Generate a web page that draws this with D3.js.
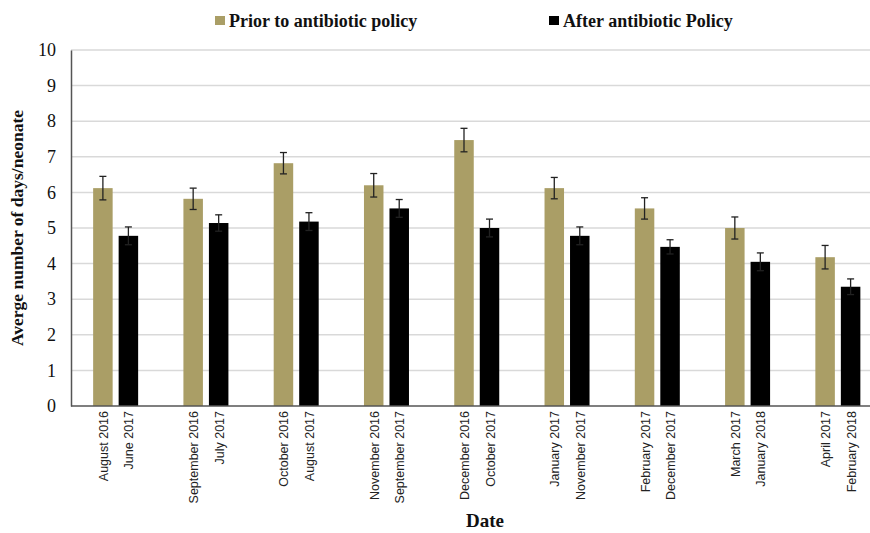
<!DOCTYPE html>
<html><head><meta charset="utf-8">
<script src="https://cdn.jsdelivr.net/npm/d3@7"></script>
<style>body{margin:0;background:#fff}svg{display:block}</style>
</head><body>
<script>
const groups = ["g1","g2","g3","g4","g5","g6","g7","g8","g9"];
const priorLabels = ["August 2016","September 2016","October 2016","November 2016","December 2016","January 2017","February 2017","March 2017","April 2017"];
const afterLabels = ["June 2017","July 2017","August 2017","September 2017","October 2017","November 2017","December 2017","January 2018","February 2018"];
const priorValues = [6.12, 5.82, 6.82, 6.2, 7.47, 6.12, 5.55, 5.0, 4.18];
const priorErrors = [0.33, 0.3, 0.3, 0.33, 0.33, 0.3, 0.3, 0.31, 0.33];
const afterValues = [4.78, 5.14, 5.18, 5.55, 5.0, 4.78, 4.47, 4.05, 3.35];
const afterErrors = [0.25, 0.23, 0.25, 0.25, 0.25, 0.25, 0.2, 0.25, 0.22];
const yTicks = [0,1,2,3,4,5,6,7,8,9,10];
const seriesNames = ["Prior to antibiotic policy","After antibiotic Policy"];

const W = 870, H = 533;
const m = {left:71, top:50, bottom:127};
const colors = ["#aa9e66","#000000"];

const svg = d3.select("body").append("svg").attr("width",W).attr("height",H);
const x = d3.scaleBand().domain(groups).range([70.5, 883]).paddingInner(0).paddingOuter(0);
const y = d3.scaleLinear().domain([0,10]).range([H-m.bottom, m.top]);
const barW = 19.5, gap = 6;

// gridlines
svg.append("g").selectAll("line").data(yTicks.filter(d=>d>0)).join("line")
  .attr("x1",m.left).attr("x2",W)
  .attr("y1",d=>y(d)).attr("y2",d=>y(d))
  .attr("stroke","#d9d9d9").attr("stroke-width",1.5);

// y axis
const ya = svg.append("g").attr("transform",`translate(${m.left},0)`)
  .call(d3.axisLeft(y).tickValues(yTicks).tickSize(0).tickPadding(15));
ya.select(".domain").attr("stroke","#555").attr("stroke-width",1.5);
ya.selectAll("text").attr("font-family","Liberation Serif").attr("font-size",18).attr("fill","#111");

const series = [
  {vals:priorValues, errs:priorErrors, labels:priorLabels, off:-(barW+gap)/2},
  {vals:afterValues, errs:afterErrors, labels:afterLabels, off:(barW+gap)/2}
];

series.forEach((s,si)=>{
  const g = svg.append("g");
  const cx = (d,i)=> x(groups[i]) + x.bandwidth()/2 + s.off;
  g.selectAll("rect").data(s.vals).join("rect")
    .attr("x",(d,i)=>cx(d,i)-barW/2).attr("width",barW)
    .attr("y",d=>y(d)).attr("height",d=>y(0)-y(d))
    .attr("fill",colors[si]);
  const eb = svg.append("g").attr("stroke","#222").attr("stroke-width",1.3);
  s.vals.forEach((v,i)=>{
    const c = cx(v,i), e = s.errs[i];
    eb.append("line").attr("x1",c).attr("x2",c).attr("y1",y(v+e)).attr("y2",y(v-e));
    eb.append("line").attr("x1",c-3.5).attr("x2",c+3.5).attr("y1",y(v+e)).attr("y2",y(v+e));
    eb.append("line").attr("x1",c-3.5).attr("x2",c+3.5).attr("y1",y(v-e)).attr("y2",y(v-e));
  });
  svg.append("g").selectAll("text").data(s.labels).join("text")
    .attr("transform",(d,i)=>`translate(${cx(0,i)+5},${y(0)+5}) rotate(-90)`)
    .attr("text-anchor","end")
    .attr("font-family","Liberation Sans").attr("font-size",12.5).attr("fill","#222")
    .text(d=>d);
});

// x axis line
svg.append("line").attr("x1",m.left).attr("x2",W).attr("y1",y(0)).attr("y2",y(0))
  .attr("stroke","#555").attr("stroke-width",1.5);

// axis titles
svg.append("text").attr("transform",`translate(23,${(y(0)+y(10))/2}) rotate(-90)`)
  .attr("text-anchor","middle").attr("font-family","Liberation Serif").attr("font-weight","bold")
  .attr("font-size",17.5).attr("fill","#111").text("Averge number of days/neonate");
svg.append("text").attr("x",485).attr("y",527).attr("text-anchor","middle")
  .attr("font-family","Liberation Serif").attr("font-weight","bold").attr("font-size",19)
  .attr("fill","#111").text("Date");

// legend
const legX = [215, 549];
seriesNames.forEach((n,i)=>{
  svg.append("rect").attr("x",legX[i]).attr("y",16).attr("width",10).attr("height",9).attr("fill",colors[i]);
  svg.append("text").attr("x",legX[i]+14).attr("y",27).attr("font-family","Liberation Serif")
    .attr("font-weight","bold").attr("font-size",18).attr("fill","#111").text(n);
});
</script>
</body></html>
